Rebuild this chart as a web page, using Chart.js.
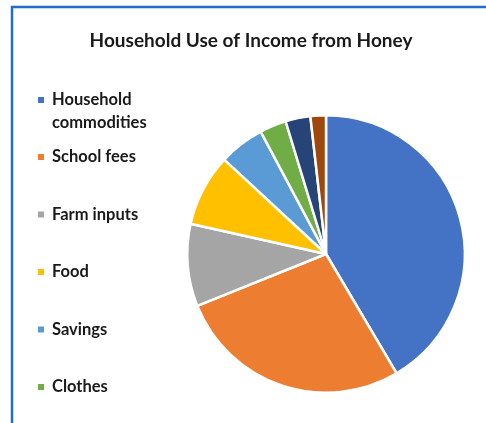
<!DOCTYPE html>
<html>
<head>
<meta charset="utf-8">
<script src="https://cdn.jsdelivr.net/npm/chart.js@4.4.0/dist/chart.umd.min.js"></script>
<style>
  html, body { margin: 0; padding: 0; background: #ffffff; }
  #wrap { width: 486px; height: 423px; position: relative; }
</style>
</head>
<body>
<div id="wrap"><canvas id="c" width="486" height="423"></canvas></div>
<script>
const title = "Household Use of Income from Honey";
const categories = [
  ["Household", "commodities"],
  ["School fees"],
  ["Farm inputs"],
  ["Food"],
  ["Savings"],
  ["Clothes"],
  ["Item 7"],
  ["Item 8"]
];
const values = [41.5, 27.4, 9.6, 8.4, 5.3, 3.1, 2.9, 1.8];
const colors = ["#4472C4", "#ED7D31", "#A5A5A5", "#FFC000", "#5B9BD5", "#70AD47", "#264478", "#9E480E"];

const FONT = "Lato, 'Open Sans', sans-serif";

const decor = {
  id: 'decor',
  beforeDraw(chart) {
    const ctx = chart.ctx;
    ctx.save();
    ctx.fillStyle = '#ffffff';
    ctx.fillRect(0, 0, chart.width, chart.height);
    ctx.strokeStyle = '#1f6fc8';
    ctx.lineWidth = 2.5;
    ctx.beginPath();
    ctx.moveTo(12, chart.height);
    ctx.lineTo(12, 7);
    ctx.lineTo(chart.width, 7);
    ctx.stroke();
    ctx.restore();
  },
  afterDraw(chart) {
    const ctx = chart.ctx;
    ctx.save();
    ctx.fillStyle = '#1a1a1a';
    ctx.textBaseline = 'middle';
    ctx.textAlign = 'center';
    ctx.font = "bold 19px " + FONT;
    ctx.fillText(chart.options.plugins.decor.title, 251, 41);

    // legend
    const labels = chart.data.labels;
    const bg = chart.data.datasets[0].backgroundColor;
    ctx.textAlign = 'left';
    ctx.font = "bold 16.5px " + FONT;
    let y = 100;
    for (let i = 0; i < labels.length; i++) {
      const lines = labels[i];
      ctx.fillStyle = bg[i];
      ctx.fillRect(38, y - 3, 6, 6);
      ctx.fillStyle = '#1a1a1a';
      lines.forEach((ln, k) => ctx.fillText(ln, 52, y + k * 22.5));
      y += (i === 0 ? 57 : 57.5);
    }
    ctx.restore();
  }
};

new Chart(document.getElementById('c'), {
  type: 'pie',
  data: {
    labels: categories,
    datasets: [{
      data: values,
      backgroundColor: colors,
      borderColor: '#ffffff',
      borderWidth: 2.5
    }]
  },
  options: {
    responsive: false,
    animation: false,
    devicePixelRatio: 1,
    rotation: 0,
    layout: { padding: { left: 186, right: 20, top: 114, bottom: 29 } },
    plugins: {
      legend: { display: false },
      tooltip: { enabled: false },
      title: { display: false },
      decor: { title: title }
    }
  },
  plugins: [decor]
});
</script>
</body>
</html>
